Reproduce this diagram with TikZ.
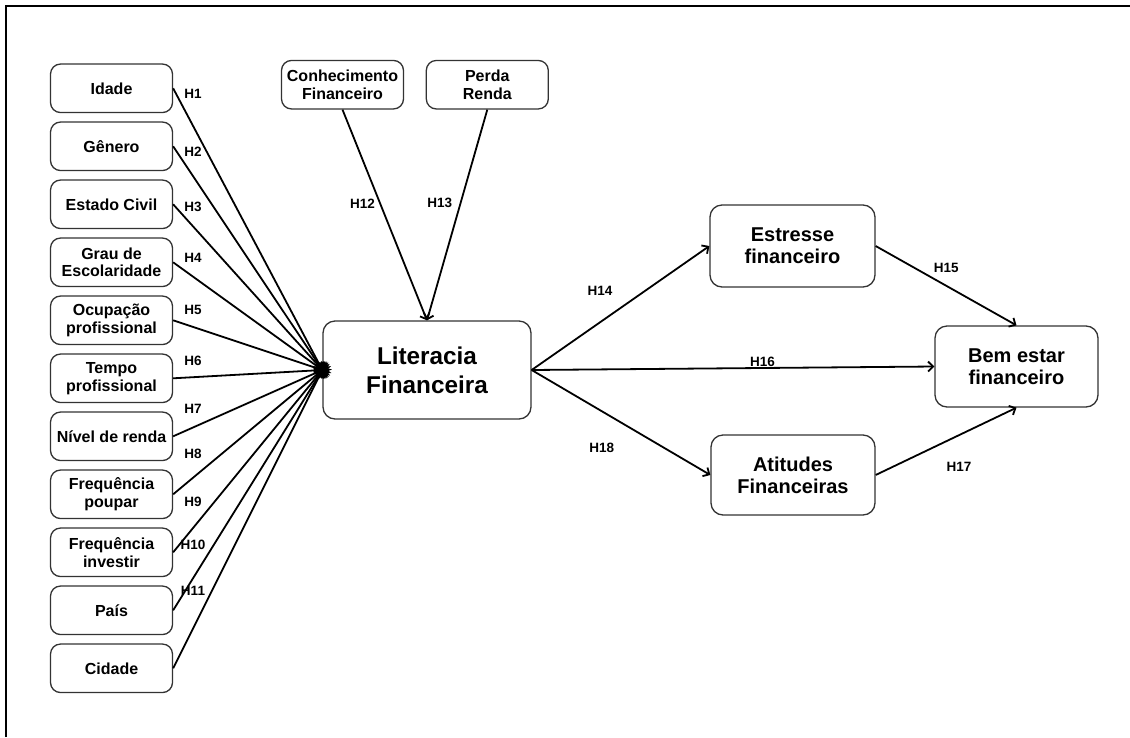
\documentclass[tikz,border=0pt]{standalone}
\usepackage{fontspec}
\setmainfont{Liberation Sans}
\usetikzlibrary{positioning,arrows.meta}
\definecolor{boxline}{gray}{0.2}
\tikzstyle{factor}=[
	rectangle,
	draw=boxline,
	line width=1.3pt,
	rounded corners=10pt,
	align=center,
	inner sep=2pt,
	minimum width=122pt,
	minimum height=48.5pt,
	font=\fontsize{16pt}{17.7pt}\selectfont\bfseries
	]
\tikzstyle{core}=[factor, minimum width=208pt, minimum height=98pt, rounded corners=12pt,
	font=\fontsize{24.3pt}{28.7pt}\selectfont\bfseries]
\tikzstyle{outcome}=[factor, minimum width=164pt, minimum height=81pt, rounded corners=12pt,
	font=\fontsize{20pt}{22pt}\selectfont\bfseries]
\tikzstyle{hyp}=[inner sep=0pt, font=\fontsize{13.5pt}{15pt}\selectfont\bfseries]
\tikzstyle{fan}=[line width=1.8pt, -{Latex[length=16pt,width=14pt]}, shorten >=-10pt]
\tikzstyle{link}=[line width=1.8pt, -{Straight Barb[length=5pt,width=10pt]}]

\begin{document}
\begin{tikzpicture}[x=1pt, y=-1pt]
	\useasboundingbox (0,0) rectangle (1130,737);
	\draw[line width=1.5pt] (6,737) -- (6,6) -- (1130,6);

		% determinants
		\node (Idade) [factor] at (111.5,88.3) {Idade};
		\node (Genero) [factor, below=8.2pt of Idade] {Gênero};
		\node (Civil) [factor, below=8.2pt of Genero] {Estado Civil};
		\node (Escola) [factor, below=8.2pt of Civil] {Grau de\\Escolaridade};
		\node (Ocupacao) [factor, below=8.2pt of Escola] {Ocupação\\profissional};
		\node (Tempo) [factor, below=8.2pt of Ocupacao] {Tempo\\profissional};
		\node (Renda) [factor, below=8.2pt of Tempo] {Nível de renda};
		\node (Poupar) [factor, below=8.2pt of Renda] {Frequência\\poupar};
		\node (Investir) [factor, below=8.2pt of Poupar] {Frequência\\investir};
		\node (Pais) [factor, below=8.2pt of Investir] {País};
		\node (Cidade) [factor, below=8.2pt of Pais] {Cidade};

		\node (Conhecimento) [factor] at (342.5,84.7) {Conhecimento\\Financeiro};
		\node (Perda) [factor, right=21.5pt of Conhecimento] {Perda\\Renda};

		\node (Literacia) [core] at (427,370) {Literacia\\Financeira};

		\node (Estresse) [outcome, minimum width=165pt, minimum height=82pt] at (792.5,246) {Estresse\\financeiro};
		\node (Atitudes) [outcome, minimum height=80pt] at (793,475) {Atitudes\\Financeiras};
		\node (BemEstar) [outcome, minimum width=163pt] at (1016.5,366.5) {Bem estar\\financeiro};

		\draw[fan] (Idade.east) -- (Literacia.west);
		\draw[fan] (Genero.east) -- (Literacia.west);
		\draw[fan] (Civil.east) -- (Literacia.west);
		\draw[fan] (Escola.east) -- (Literacia.west);
		\draw[fan] (Ocupacao.east) -- (Literacia.west);
		\draw[fan] (Tempo.east) -- (Literacia.west);
		\draw[fan] (Renda.east) -- (Literacia.west);
		\draw[fan] (Poupar.east) -- (Literacia.west);
		\draw[fan] (Investir.east) -- (Literacia.west);
		\draw[fan] (Pais.east) -- (Literacia.west);
		\draw[fan] (Cidade.east) -- (Literacia.west);

		\node (H1) [hyp] at (193,94.2) {H1};
		\node (H2) [hyp] at (193,151.7) {H2};
		\node (H3) [hyp] at (193,207) {H3};
		\node (H4) [hyp] at (193,258.3) {H4};
		\node (H5) [hyp] at (193,310) {H5};
		\node (H6) [hyp] at (193,361) {H6};
		\node (H7) [hyp] at (193,409.2) {H7};
		\node (H8) [hyp] at (193,454) {H8};
		\node (H9) [hyp] at (193,501.7) {H9};
		\node (H10) [hyp] at (193,545.3) {H10};
		\node (H11) [hyp] at (193,591) {H11};

		\draw[link] (Conhecimento.south) -- (Literacia.north);
		\draw[link] (Perda.south) -- (Literacia.north);
		\node (H12) [hyp] at (362.5,203.3) {H12};
		\node (H13) [hyp] at (439.7,203.3) {H13};

		\draw[link] (Literacia.east) -- (Estresse.west);
		\draw[link] (Literacia.east) -- (BemEstar.west);
		\draw[link] (Literacia.east) -- (Atitudes.west);
		\draw[link] (Estresse.east) -- (BemEstar.north);
		\draw[link] (Atitudes.east) -- (BemEstar.south);

		\node (H14) [hyp] at (600,290.7) {H14};
		\node (H15) [hyp] at (946.3,267.7) {H15};
		\node (H16) [hyp] at (762.5,361.7) {H16};
		\node (H17) [hyp] at (959,467) {H17};
		\node (H18) [hyp] at (601.7,448.3) {H18};

	\end{tikzpicture}
\end{document}
